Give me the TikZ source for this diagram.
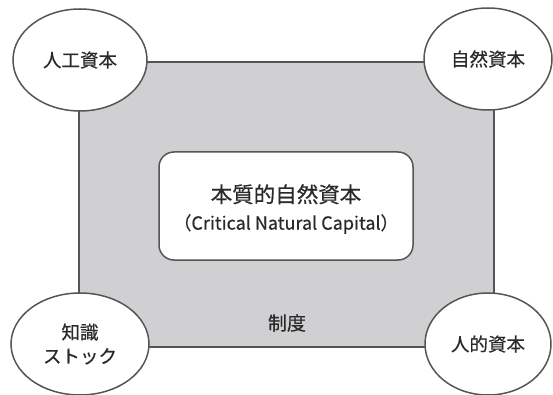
\documentclass[tikz,border=0pt]{standalone}
\usepackage{fontspec}
\setmainfont{Noto Sans CJK JP}[BoldFont=*,BoldFeatures={FakeBold=0.5}]
\usetikzlibrary{shapes.geometric}
\definecolor{edge}{HTML}{555555}
\definecolor{panel}{HTML}{D0D0D2}
\definecolor{ink}{HTML}{2A2A2A}
\tikzset{
  capital/.style={ellipse,draw=edge,line width=1.5pt,fill=white,minimum width=134pt,minimum height=102pt,inner sep=0pt,text=ink,font=\bfseries\fontsize{18.5}{24}\selectfont,align=center},
  corebox/.style={rectangle,rounded corners=15pt,draw=edge,line width=1.5pt,fill=white,minimum width=254pt,minimum height=108pt,text=ink,align=center,font=\bfseries},
  panelbox/.style={rectangle,draw=edge,line width=1.5pt,fill=panel,minimum width=415pt,minimum height=285pt,inner sep=0pt},
}
\begin{document}
\begin{tikzpicture}[x=1pt,y=-1pt]
\useasboundingbox (0,0) rectangle (553,395);
\node[panelbox] (inst) at (286.5,204.5) {};
\node[corebox] (core) at (286,206) {};
\node[text=ink,font=\bfseries,align=center,yshift=-3pt] (coretext) at (core.center) {\fontsize{21.5}{30}\selectfont 本質的自然資本\\[9pt]\fontsize{18}{30}\selectfont （Critical Natural Capital）};
\node[text=ink,font=\bfseries\fontsize{19}{22}\selectfont] (seido) at (287,323) {制度};
\node[capital] (man) at (80,60) {人工資本};
\node[capital,minimum width=128pt] (nat) at (488,59) {自然資本};
\node[capital,minimum width=138pt] (know) at (80,344) {知識\\ストック};
\node[capital,minimum width=126pt] (hum) at (488,344) {人的資本};
\end{tikzpicture}
\end{document}
